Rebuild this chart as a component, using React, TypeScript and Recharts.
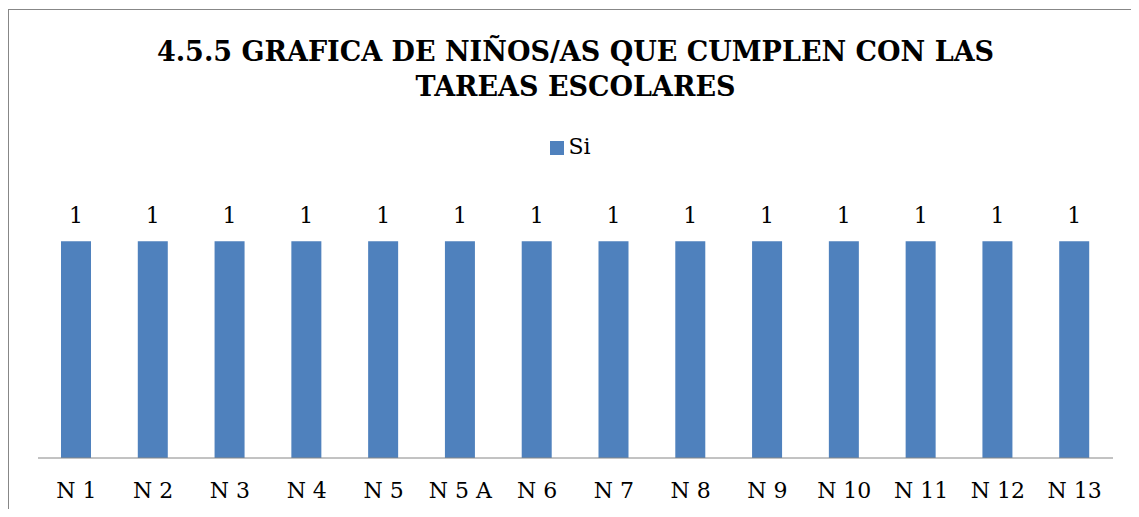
import { BarChart, Bar, XAxis, YAxis, Legend, LabelList } from "recharts";

const categories = ["N 1", "N 2", "N 3", "N 4", "N 5", "N 5 A", "N 6", "N 7", "N 8", "N 9", "N 10", "N 11", "N 12", "N 13"];
const siValues = [1, 1, 1, 1, 1, 1, 1, 1, 1, 1, 1, 1, 1, 1];

const data = categories.map((name, i) => ({ name, Si: siValues[i] }));

const serif = "'DejaVu Serif', 'Liberation Serif', serif";

export default function App() {
  return (
    <div style={{ position: "relative", width: 1123, height: 501, overflow: "hidden" }}>
      <div
        style={{
          position: "absolute",
          left: 0,
          top: 1,
          width: 1300,
          height: 700,
          border: "1px solid #878787",
        }}
      />
      <div
        style={{
          position: "absolute",
          left: 0,
          top: 26,
          width: 1135,
          textAlign: "center",
          fontFamily: serif,
          fontWeight: "bold",
          fontSize: 27,
          lineHeight: "35px",
          color: "#000",
        }}
      >
        4.5.5 GRAFICA DE NIÑOS/AS QUE CUMPLEN CON LAS
        <br />
        TAREAS ESCOLARES
      </div>
      <div style={{ position: "absolute", left: 0, top: 0 }}>
        <BarChart
          width={1123}
          height={501}
          data={data}
          margin={{ top: 190, right: 18, bottom: 0, left: 30 }}
        >
          <XAxis
            dataKey="name"
            height={51}
            axisLine={{ stroke: "#868686" }}
            tickLine={false}
            tickSize={0}
            tickMargin={24}
            interval={0}
            tick={{ fill: "#000", fontSize: 22, fontFamily: serif }}
          />
          <YAxis hide domain={[0, 1.2]} />
          <Legend
            verticalAlign="middle"
            align="center"
            iconType="square"
            iconSize={14}
            wrapperStyle={{
              top: 126,
              fontFamily: serif,
              fontSize: 22,
              color: "#000",
            }}
            formatter={(value) => <span style={{ color: "#000" }}>{value}</span>}
          />
          <Bar dataKey="Si" fill="#4F81BD" barSize={30} isAnimationActive={false}>
            <LabelList
              dataKey="Si"
              position="top"
              offset={18}
              style={{ fill: "#000", fontSize: 22, fontFamily: serif }}
            />
          </Bar>
        </BarChart>
      </div>
    </div>
  );
}
